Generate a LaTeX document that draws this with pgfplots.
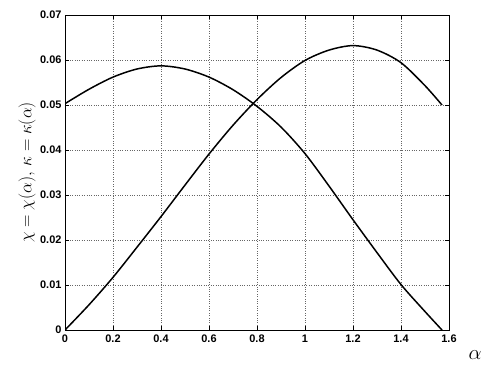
\documentclass[border=0pt]{standalone}
\usepackage{pgfplots}
\pgfplotsset{compat=1.18}
\usepackage{fontspec}
\setmainfont{Liberation Sans}
\begin{document}
\begin{tikzpicture}
\path[use as bounding box] (-65bp,-41bp) rectangle (426bp,330bp);
\begin{axis}[
  at={(0,0)}, anchor=south west,
  scale only axis, width=384bp, height=315bp,
  xmin=0, xmax=1.6, ymin=0, ymax=0.07,
  scaled x ticks=false, scaled y ticks=false,
  xtick={0,0.2,0.4,0.6,0.8,1,1.2,1.4,1.6}, ytick={0,0.01,0.02,0.03,0.04,0.05,0.06,0.07},
  xticklabels={0,0.2,0.4,0.6,0.8,1,1.2,1.4,1.6},
  yticklabels={0,0.01,0.02,0.03,0.04,0.05,0.06,0.07},
  tick align=inside, tick pos=both,
  major tick length=4bp,
  grid=major,
  major grid style={dotted, black!60, line width=0.6pt},
  axis line style={line width=1pt},
  tick style={black, line width=0.6pt},
  ticklabel style={font=\fontsize{11}{13}\selectfont\bfseries},
  xticklabel style={yshift=-1bp},
  ylabel={$\chi=\chi(\alpha),\,\kappa=\kappa(\alpha)$},
  ylabel style={at={(axis description cs:-0.099,0.5)}, anchor=center, font=\fontsize{16}{20}\selectfont},
  xlabel={$\alpha$},
  xlabel style={at={(axis description cs:1.068,-0.079)}, anchor=center, font=\fontsize{21}{25}\selectfont},
]
\addplot[black, line width=1.5pt, smooth] coordinates {
(0,0) (0.1,0.0056) (0.2,0.0117) (0.3,0.0184) (0.4,0.0252) (0.5,0.0322) (0.6,0.0391) (0.7,0.0455) (0.8,0.0512) (0.9,0.0561) (1.0,0.0599) (1.1,0.0622) (1.2,0.0632) (1.3,0.0622) (1.4,0.0594) (1.5,0.0543) (1.5708,0.0500)
};
\addplot[black, line width=1.5pt, smooth] coordinates {
(0,0.0503) (0.1,0.0535) (0.2,0.0562) (0.3,0.0580) (0.4,0.0587) (0.5,0.0580) (0.6,0.0562) (0.7,0.0534) (0.8,0.0497) (0.9,0.0451) (1.0,0.0392) (1.1,0.0320) (1.2,0.0245) (1.3,0.0172) (1.4,0.0101) (1.5,0.0041) (1.5708,0)
};
\end{axis}
\end{tikzpicture}
\end{document}
